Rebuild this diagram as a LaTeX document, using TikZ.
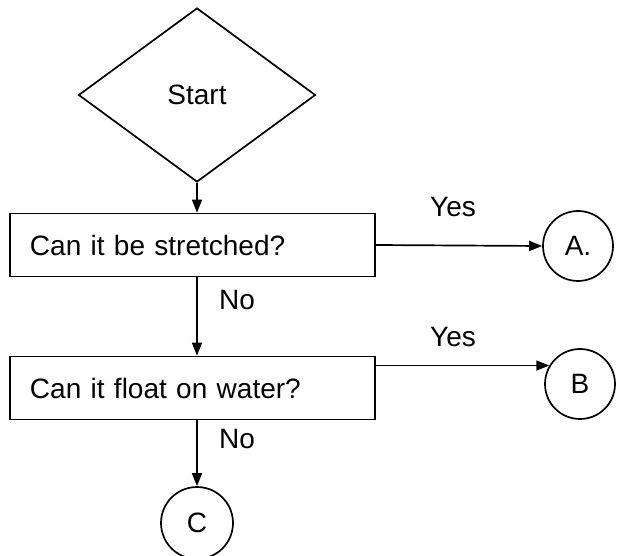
\documentclass[tikz,border=0pt]{standalone}
\usepackage{fontspec}
\setmainfont{Liberation Sans}
\usetikzlibrary{shapes.geometric,arrows.meta,calc}
\begin{document}
\begin{tikzpicture}[x=1pt,y=-1pt,
  every node/.style={font=\fontsize{28}{32}\selectfont},
  arr/.style={line width=1.7pt, -{Triangle[length=13pt,width=10pt]}},
  decision/.style={draw, line width=1.7pt, diamond, aspect=1.36,
    minimum width=237pt, minimum height=174pt, inner sep=0pt},
  question/.style={draw, line width=1.7pt, minimum width=365pt, minimum height=63pt,
    inner sep=0pt, text width=325pt, align=left},
  outcome/.style={draw, line width=1.7pt, circle, minimum size=70pt, inner sep=0pt},
  label/.style={inner sep=0pt}]
  \useasboundingbox (0,0) rectangle (622,556);
  \begin{scope}
    \clip (0,0) rectangle (622,556);
    % decision start
    \node[decision] (start) at (197,95) {Start};
    % question boxes
    \node[question] (q1) at (192.5,245) {Can it be stretched?};
    \node[question] (q2) at (192.5,388) {Can it float on water?};
    % outcomes
    \node[outcome] (A) at (578,246) {A.};
    \node[outcome] (B) at (580,384) {B};
    \node[outcome, minimum size=72pt] (C) at (197,523) {C};
    % connectors
    \draw[arr] (start.south) -- (q1.north -| start.south);
    \draw[arr] (q1.south -| start.south) -- (q2.north -| start.south);
    \draw[arr] (q2.south -| start.south) -- (C.north);
    \draw[arr] (q1.east) -- (A.west);
    \draw[arr] (q2.east |- B.149) -- (B.149);
    % branch labels
    \node[label] at (453,207) {Yes};
    \node[label] at (453,337) {Yes};
    \node[label] at (237,300) {No};
    \node[label] at (237,439) {No};
  \end{scope}
\end{tikzpicture}
\end{document}
